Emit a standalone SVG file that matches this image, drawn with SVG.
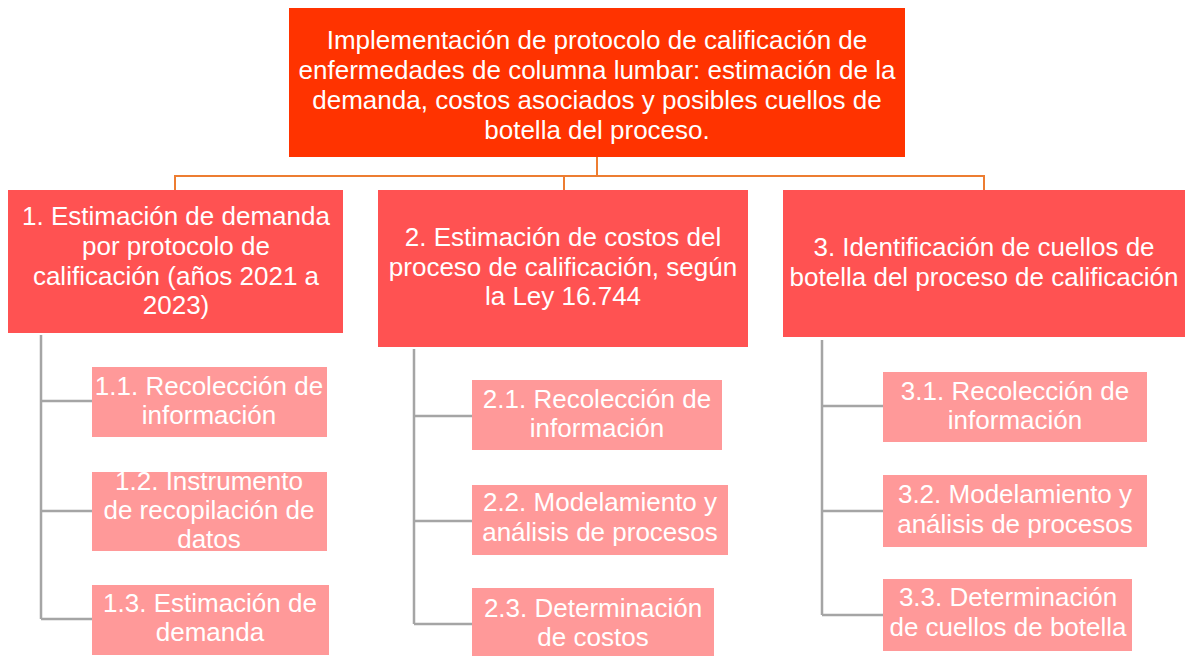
<svg xmlns="http://www.w3.org/2000/svg" width="1189" height="657" viewBox="0 0 1189 657">
<style>
text{font-family:"Liberation Sans",Arial,sans-serif;font-size:26px;fill:#ffffff;text-anchor:middle}
.top{fill:#ff3300}
.l1{fill:#ff5252}
.l2{fill:#ff9999}
.oc{stroke:#ed7d31;stroke-width:2;fill:none}
.gc{stroke:#a5a5a5;stroke-width:2.5;fill:none}
</style>
<rect width="1189" height="657" fill="#ffffff"/>
<g id="connectors">
<path class="oc" d="M597 157V176M175 190V176H984V190M564 176V190"/>
<path class="gc" d="M41 335V619M41 401H92M41 511H92M41 619H92"/>
<path class="gc" d="M414 349V624M414 416H472M414 521H472M414 624H472"/>
<path class="gc" d="M822 340V615M822 406H883M822 511H883M822 615H883"/>
</g>
<g id="root">
<rect class="top" x="289" y="8" width="616" height="149"/>
<text x="597" y="49">Implementación de protocolo de calificación de</text>
<text x="597" y="79">enfermedades de columna lumbar: estimación de la</text>
<text x="597" y="109">demanda, costos asociados y posibles cuellos de</text>
<text x="597" y="139">botella del proceso.</text>
</g>
<g id="n1">
<rect class="l1" x="8" y="190" width="335" height="143"/>
<text x="176" y="225">1. Estimación de demanda</text>
<text x="176" y="255">por protocolo de</text>
<text x="176" y="285">calificación (años 2021 a</text>
<text x="176" y="314">2023)</text>
</g>
<g id="n2">
<rect class="l1" x="378" y="190" width="370" height="157"/>
<text x="563" y="246">2. Estimación de costos del</text>
<text x="563" y="276">proceso de calificación, según</text>
<text x="563" y="305">la Ley 16.744</text>
</g>
<g id="n3">
<rect class="l1" x="783" y="190" width="402" height="147"/>
<text x="984" y="256">3. Identificación de cuellos de</text>
<text x="984" y="286">botella del proceso de calificación</text>
</g>
<g id="n1_1">
<rect class="l2" x="92" y="367" width="235" height="70"/>
<text x="209" y="395">1.1. Recolección de</text>
<text x="209" y="424">información</text>
</g>
<g id="n1_2">
<rect class="l2" x="92" y="472" width="235" height="79"/>
<text x="209" y="490">1.2. Instrumento</text>
<text x="209" y="519">de recopilación de</text>
<text x="209" y="548">datos</text>
</g>
<g id="n1_3">
<rect class="l2" x="92" y="585" width="237" height="70"/>
<text x="210" y="612">1.3. Estimación de</text>
<text x="210" y="641">demanda</text>
</g>
<g id="n2_1">
<rect class="l2" x="472" y="380" width="250" height="70"/>
<text x="597" y="408">2.1. Recolección de</text>
<text x="597" y="437">información</text>
</g>
<g id="n2_2">
<rect class="l2" x="472" y="485" width="256" height="70"/>
<text x="600" y="511">2.2. Modelamiento y</text>
<text x="600" y="541">análisis de procesos</text>
</g>
<g id="n2_3">
<rect class="l2" x="472" y="588" width="242" height="68"/>
<text x="593" y="617">2.3. Determinación</text>
<text x="593" y="646">de costos</text>
</g>
<g id="n3_1">
<rect class="l2" x="883" y="372" width="264" height="70"/>
<text x="1015" y="400">3.1. Recolección de</text>
<text x="1015" y="429">información</text>
</g>
<g id="n3_2">
<rect class="l2" x="883" y="475" width="264" height="72"/>
<text x="1015" y="503">3.2. Modelamiento y</text>
<text x="1015" y="533">análisis de procesos</text>
</g>
<g id="n3_3">
<rect class="l2" x="883" y="579" width="249" height="72"/>
<text x="1008" y="606">3.3. Determinación</text>
<text x="1008" y="636">de cuellos de botella</text>
</g>
</svg>
